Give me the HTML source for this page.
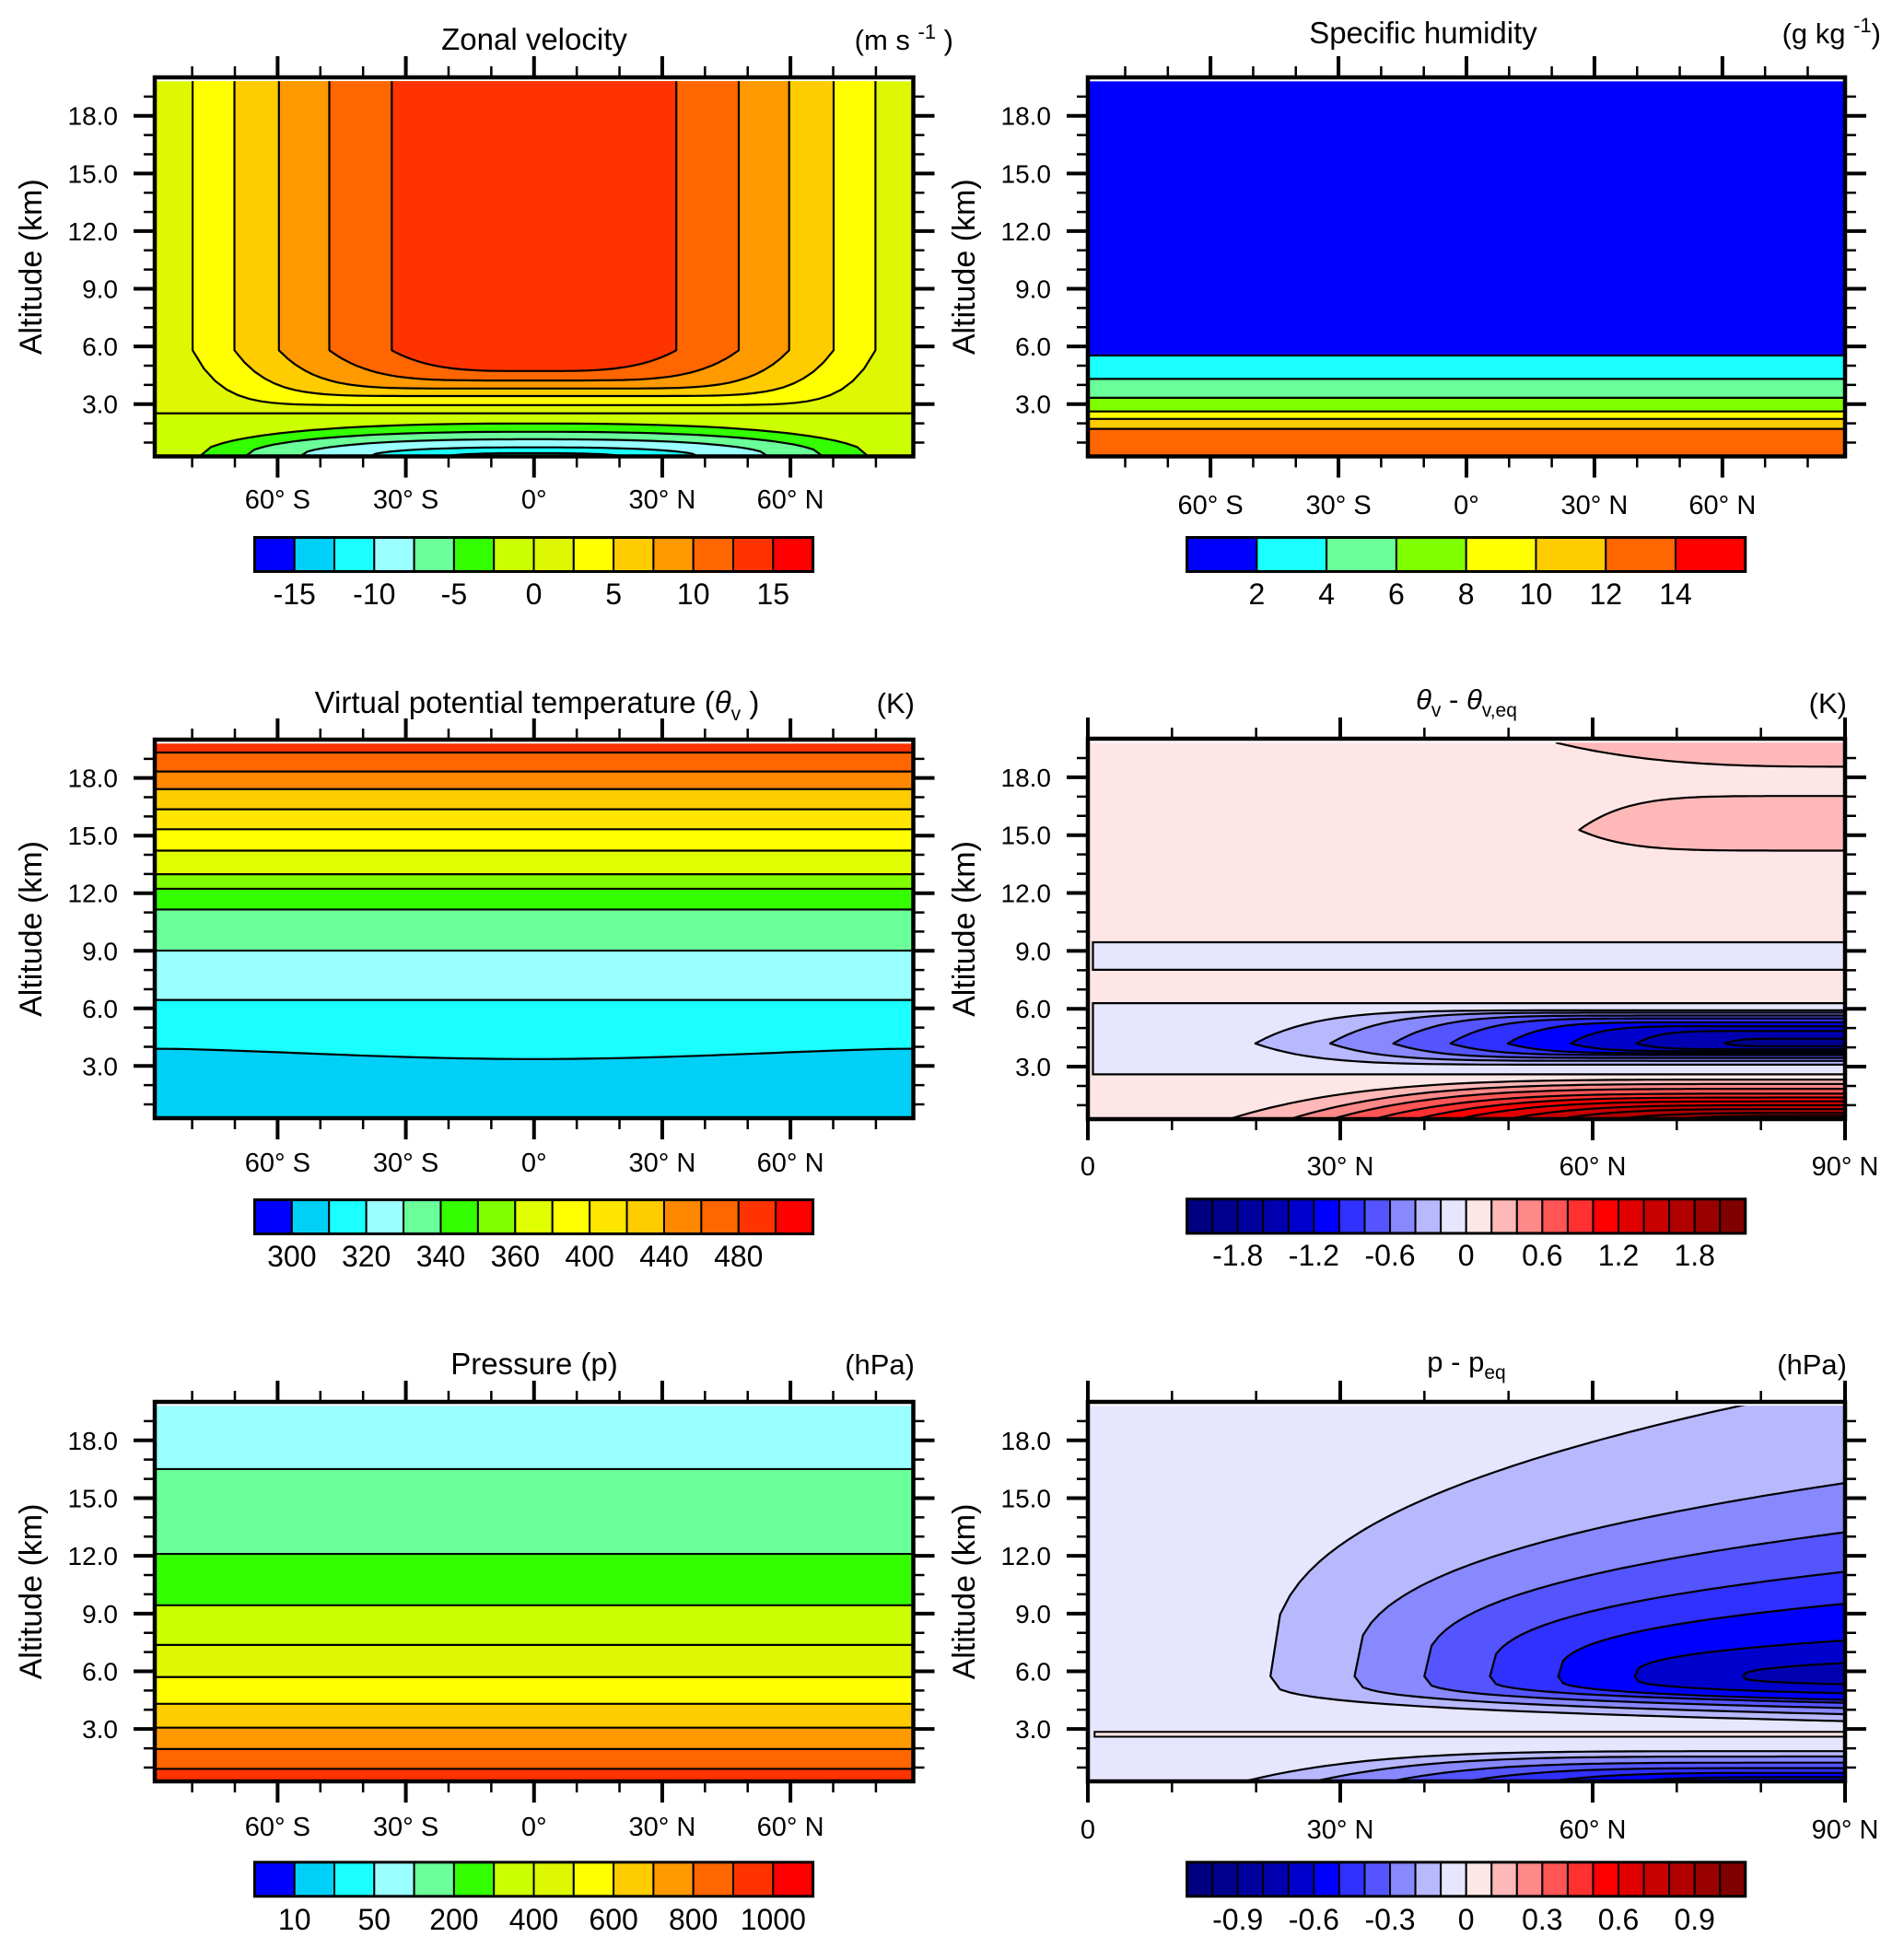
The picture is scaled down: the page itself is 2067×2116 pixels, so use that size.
<!DOCTYPE html>
<html><head><meta charset="utf-8"><style>
html,body{margin:0;padding:0;background:#fff;}
svg{display:block;font-family:"Liberation Sans",sans-serif;}
</style></head><body>
<svg id="fig" xmlns="http://www.w3.org/2000/svg" width="2067" height="2116" viewBox="0 0 2067 2116">
<rect width="2067" height="2116" fill="#fff"/>
<text x="580" y="54" font-size="33" text-anchor="middle">Zonal velocity</text>
<text x="1035" y="54" font-size="31" text-anchor="end">(m s <tspan font-size="22" dy="-12">-1</tspan><tspan dy="12"> )</tspan></text>
<text x="1545" y="47" font-size="33" text-anchor="middle">Specific humidity</text>
<text x="2042" y="47" font-size="31" text-anchor="end">(g kg <tspan font-size="22" dy="-12">-1</tspan><tspan dy="12">)</tspan></text>
<text x="583" y="774" font-size="33" text-anchor="middle">Virtual potential temperature  (<tspan font-style="italic">θ</tspan><tspan font-size="21" dy="8">v</tspan><tspan dy="-8"> )</tspan></text>
<text x="993" y="774" font-size="31" text-anchor="end">(K)</text>
<text x="1592" y="770" font-size="31" text-anchor="middle"><tspan font-style="italic">θ</tspan><tspan font-size="21" dy="8">v</tspan><tspan dy="-8"> - </tspan><tspan font-style="italic">θ</tspan><tspan font-size="21" dy="8">v,eq</tspan></text>
<text x="2005" y="774" font-size="31" text-anchor="end">(K)</text>
<text x="580" y="1492" font-size="33" text-anchor="middle">Pressure (p)</text>
<text x="993" y="1492" font-size="31" text-anchor="end">(hPa)</text>
<text x="1592" y="1489" font-size="31" text-anchor="middle">p - p<tspan font-size="21" dy="8">eq</tspan></text>
<text x="2005" y="1492" font-size="31" text-anchor="end">(hPa)</text>
</svg>
<script>
// ---------- data ----------
const altMin = 0.28, altMax = 20, dataTop = 19.8;
// Panel 1: zonal velocity
const uColors = ['#0000ff','#00d0f8','#1affff','#99ffff','#6bff99','#33ff00','#ccff00','#ddf800','#ffff00','#ffcc00','#ff9900','#ff6600','#ff3300','#ff0000'];
const uPosLat = [79.9, 70.1, 59.7, 47.9, 33.3];
const uPosBottom = [2.95, 3.42, 3.81, 4.23, 4.72];
const uPosCorner = 5.8;
const uPosFill = ['#ffff00','#ffcc00','#ff9900','#ff6600','#ff3300'];
const uZeroAlt = 2.52;
const uNegHalfWidth = [78.2, 67.6, 54.8, 38.4, 20];
const uNegPeak = [1.99, 1.56, 1.17, 0.75, 0.45];
const uNegFill = ['#33ff00','#6bff99','#99ffff','#1affff','#00d0f8'];
const uCbLabels = ['-15','-10','-5','0','5','10','15'];
const uCbIdx = [1,3,5,7,9,11,13];
// Panel 2: specific humidity
const qColors = ['#0000ff','#1affff','#6bff99','#80ff00','#ffff00','#ffcc00','#ff6600','#ff0000'];
const qBounds = [5.53, 4.31, 3.33, 2.62, 2.23, 1.71];
const qCbLabels = ['2','4','6','8','10','12','14'];
const qCbIdx = [1,2,3,4,5,6,7];
// Panel 3: theta_v
const thColors = ['#0000ff','#00d0f8','#1affff','#99ffff','#6bff99','#33ff00','#80ff00','#e0ff00','#ffff00','#ffe600','#ffcc00','#ff8800','#ff6600','#ff3300','#ff0000'];
const thBounds = [19.33, 18.34, 17.42, 16.37, 15.33, 14.22, 12.99, 12.23, 11.15, 9.01, 6.44];
const thBandFill = ['#ff3300','#ff6600','#ff8800','#ffcc00','#ffe600','#ffff00','#e0ff00','#80ff00','#33ff00','#6bff99','#99ffff','#1affff'];
const thLowEdge = 3.9, thLowCenter = 3.36;
const thCbLabels = ['300','320','340','360','400','440','480'];
const thCbIdx = [1,3,5,7,9,11,13];
// Panel 5: pressure
const pBounds = [16.51, 12.10, 9.43, 7.37, 5.70, 4.31, 3.07, 1.96, 0.93];
const pBandFill = ['#99ffff','#6bff99','#33ff00','#ccff00','#ddf800','#ffff00','#ffcc00','#ff9900','#ff6600','#ff3300'];
const pCbLabels = ['10','50','200','400','600','800','1000'];
const pCbIdx = [1,3,5,7,9,11,13];
// diverging colors
const divColors = ['#000080','#00008f','#00009f','#0000b0','#0000cc','#0000ff','#3030ff','#5555ff','#8888ff','#b8b8ff','#e6e6ff','#ffe6e6','#ffb8b8','#ff8888','#ff5555','#ff3030','#ff0000','#e00000','#c80000','#b00000','#990000','#800000'];
const divIdx = [2,5,8,11,14,17,20];
const dthCbLabels = ['-1.8','-1.2','-0.6','0','0.6','1.2','1.8'];
const dpCbLabels = ['-0.9','-0.6','-0.3','0','0.3','0.6','0.9'];
// Panel 4: theta anomaly
const dthBandsLow = [8.02, 2.6];
const dthBandsHigh = [9.45, 6.29];
const dthBlueTip = [19.9, 28.8, 36.3, 43.1, 49.9, 57.4, 65.2, 75.7];
const dthBlueTop = [5.92, 5.8, 5.65, 5.5, 5.3, 5.1, 4.85, 4.45];
const dthBlueBot = [3.1, 3.3, 3.45, 3.6, 3.7, 3.8, 3.9, 4.05];
const dthBlueCenter = 4.2;
const dthBlueFill = ['#b8b8ff','#8888ff','#5555ff','#3030ff','#0000ff','#0000cc','#0000b0','#00008f'];
const dthRedTip = [16.8, 24, 29, 34, 39, 44, 50, 56, 63, 70];
const dthRedTop = [2.33, 2.1, 1.85, 1.6, 1.4, 1.2, 1.0, 0.8, 0.6, 0.45];
const dthRedFill = ['#ffb8b8','#ff8888','#ff5555','#ff3030','#ff0000','#e00000','#c80000','#b00000','#990000','#800000'];
const dthPinkTip = 58.4, dthPinkCenter = 15.27, dthPinkTop = 17.03, dthPinkBot = 14.2;
const dthCapStartLat = 55.7, dthCapStartAlt = 19.79, dthCapEndAlt = 18.55;
// Panel 6: pressure anomaly
const dpTip = [21.7, 31.7, 40.0, 47.8, 55.9, 65.0, 77.9];
const dpTipAlt = 5.74;
const dpTop = [21.0, 15.85, 13.28, 11.22, 9.55, 7.63, 6.45];
const dpBot = [3.4, 3.76, 4.08, 4.35, 4.5, 4.84, 5.31];
const dpFill = ['#b8b8ff','#8888ff','#5555ff','#3030ff','#0000ff','#0000cc','#0000b0'];
const dpPinkLow = 2.6, dpPinkHigh = 2.85;
const dpSurfTip = [18.6, 27, 36, 45, 55, 65];
const dpSurfTop = [1.85, 1.57, 1.25, 0.97, 0.72, 0.5];
const dpSurfFill = ['#b8b8ff','#8888ff','#5555ff','#3030ff','#0000ff','#0000cc'];

const latTicksSym = [-60,-30,0,30,60];
const latLabelsSym = ['60° S','30° S','0°','30° N','60° N'];
const latTicksNH = [0,30,60,90];
const latLabelsNH = ['0','30° N','60° N','90° N'];
const altTicks = [3,6,9,12,15,18];
const altLabels = ['3.0','6.0','9.0','12.0','15.0','18.0'];

// ---------- helpers ----------
const NS = 'http://www.w3.org/2000/svg';
const svg = document.getElementById('fig');
function mk(tag, attrs, parent){
  const e = document.createElementNS(NS, tag);
  for (const k in attrs) e.setAttribute(k, attrs[k]);
  (parent || svg).appendChild(e);
  return e;
}
function sx(p, lat){ return p.x0 + (lat - p.lat0) / (p.lat1 - p.lat0) * (p.x1 - p.x0); }
function sy(p, alt){ return p.y1 - (alt - altMin) / (altMax - altMin) * (p.y1 - p.y0); }
function poly(p, pts){ return 'M' + pts.map(q => sx(p,q[0]).toFixed(1) + ',' + sy(p,q[1]).toFixed(1)).join('L') + 'Z'; }

let clipN = 0;
function plotGroup(p, name){
  const id = 'clip' + (clipN++);
  const cp = mk('clipPath', {id: id});
  mk('rect', {x: p.x0, y: sy(p, dataTop), width: p.x1 - p.x0, height: p.y1 - sy(p, dataTop)}, cp);
  const g = mk('g', {'clip-path': 'url(#' + id + ')'});
  
  
  return g;
}
function band(p, g, lo, hi, fill, name, lat0, lat1){
  const a = lat0 === undefined ? p.lat0 : lat0, b = lat1 === undefined ? p.lat1 : lat1;
  const e = mk('path', {d: poly(p, [[a,lo],[b,lo],[b,hi],[a,hi]]), fill: fill, stroke: 'none'}, g);
  
  
  return e;
}
function hline(p, g, alt, name, lat0){
  const a = lat0 === undefined ? p.lat0 : lat0;
  const e = mk('line', {x1: sx(p,a), x2: p.x1, y1: sy(p,alt), y2: sy(p,alt), stroke: '#000', 'stroke-width': 2.2}, g);
  
  
}
function shape(p, g, pts, fill, name){
  const e = mk('path', {d: poly(p, pts), fill: fill, stroke: '#000', 'stroke-width': 2.2, 'stroke-linejoin': 'round'}, g);
  
  
}

function axes(p, ticks, labels, minorTicks, labelBase, prefix){
  const ax = mk('g', {});
  
  
  const fr = mk('rect', {x: p.x0, y: p.y0, width: p.x1 - p.x0, height: p.y1 - p.y0, fill: 'none', stroke: '#000', 'stroke-width': 4.5}, ax);
  
  
  let d = '';
  ticks.forEach(t => { const x = sx(p,t); d += `M${x},${p.y0}V${p.y0-23}M${x},${p.y1}V${p.y1+23}`; });
  altTicks.forEach(a => { const y = sy(p,a); d += `M${p.x0},${y}H${p.x0-23}M${p.x1},${y}H${p.x1+23}`; });
  const mj = mk('path', {d: d, stroke: '#000', 'stroke-width': 4, fill: 'none'}, ax);
  
  
  let dm = '';
  minorTicks.forEach(t => { const x = sx(p,t); dm += `M${x},${p.y0}V${p.y0-12}M${x},${p.y1}V${p.y1+12}`; });
  for (let a = 1; a <= 19; a++){ if (a % 3 === 0) continue; const y = sy(p,a); dm += `M${p.x0},${y}H${p.x0-12}M${p.x1},${y}H${p.x1+12}`; }
  const mn = mk('path', {d: dm, stroke: '#000', 'stroke-width': 2.5, fill: 'none'}, ax);
  
  
  ticks.forEach((t, i) => {
    const tx = mk('text', {x: sx(p,t), y: labelBase, 'font-size': 29, 'text-anchor': 'middle'}, ax);
    tx.textContent = labels[i];
    
    
  });
  altTicks.forEach((a, i) => {
    const tx = mk('text', {x: p.x0 - 40, y: sy(p,a) + 10, 'font-size': 28, 'text-anchor': 'end'}, ax);
    tx.textContent = altLabels[i];
    
    
  });
  const cx = p.x0 - 123, cy = (p.y0 + p.y1) / 2;
  const yt = mk('text', {x: cx, y: cy, 'font-size': 34, 'text-anchor': 'middle', transform: `rotate(-90 ${cx} ${cy})`}, ax);
  yt.textContent = 'Altitude (km)';
  
  
}

function colorbar(x0, x1, y0, y1, colors, labels, idx, labelY, prefix){
  const g = mk('g', {});
  
  
  const w = (x1 - x0) / colors.length;
  colors.forEach((c, i) => {
    const r = mk('rect', {x: x0 + i*w, y: y0, width: w, height: y1 - y0, fill: c, stroke: '#000', 'stroke-width': 2}, g);
    
    
  });
  const fr = mk('rect', {x: x0, y: y0, width: x1 - x0, height: y1 - y0, fill: 'none', stroke: '#000', 'stroke-width': 3}, g);
  
  
  labels.forEach((l, i) => {
    const t = mk('text', {x: x0 + idx[i]*w, y: labelY, 'font-size': 32, 'text-anchor': 'middle'}, g);
    t.textContent = l;
    
    
  });
}

const minorSym = [-80,-70,-50,-40,-20,-10,10,20,40,50,70,80];
const minorNH = [10,20,40,50,70,80];
const N = 60;

// ---------- panel 1: zonal velocity ----------
const P1 = {x0:168, x1:991.5, y0:84, y1:495.5, lat0:-88.75, lat1:88.75};
{
  const g = plotGroup(P1, 'zonal-velocity-plot');
  band(P1, g, uZeroAlt, dataTop, uColors[7], 'u-band-0-2.5');
  band(P1, g, altMin, uZeroAlt, uColors[6], 'u-band-neg-2.5-0');
  const shp = [12, 9, 7, 5, 3.7];
  uPosLat.forEach((L, k) => {
    const b = uPosBottom[k], pts = [[-L, dataTop + 1]];
    for (let i = 0; i <= N; i++){ const lat = -L + 2*L*i/N; pts.push([lat, b + (uPosCorner - b) * Math.pow(Math.abs(lat)/L, shp[k])]); }
    pts.push([L, dataTop + 1]);
    shape(P1, g, pts, uPosFill[k], 'u-contour-region-' + k);
  });
  hline(P1, g, uZeroAlt, 'u-zero-contour');
  uNegHalfWidth.forEach((W, k) => {
    const pk = uNegPeak[k], pts = [];
    for (let i = 0; i <= N; i++){ const lat = -W + 2*W*i/N; const t = Math.abs(lat)/W; pts.push([lat, altMin + (pk - altMin) * Math.sqrt(Math.max(0, 1 - Math.pow(t, 2.5)))]); }
    shape(P1, g, pts, uNegFill[k], 'u-negative-region-' + k);
  });
  axes(P1, latTicksSym, latLabelsSym, minorSym, 552, 'zonal-velocity');
  colorbar(276.4, 882.6, 583.5, 620.5, uColors, uCbLabels, uCbIdx, 656, 'zonal-velocity');
}

// ---------- panel 2: specific humidity ----------
const P2 = {x0:1181, x1:2003, y0:84, y1:495.5, lat0:-88.75, lat1:88.75};
{
  const g = plotGroup(P2, 'specific-humidity-plot');
  const edges = [dataTop].concat(qBounds).concat([altMin]);
  for (let i = 0; i < edges.length - 1; i++) band(P2, g, edges[i+1], edges[i], qColors[i], 'q-band-' + i);
  qBounds.forEach((b, i) => hline(P2, g, b, 'q-contour-' + i));
  axes(P2, latTicksSym, latLabelsSym, minorSym, 558, 'specific-humidity');
  colorbar(1288.6, 1894.8, 583.5, 620.5, qColors, qCbLabels, qCbIdx, 656, 'specific-humidity');
}

// ---------- panel 3: theta_v ----------
const P3 = {x0:168, x1:991.5, y0:803, y1:1214, lat0:-88.75, lat1:88.75};
{
  const g = plotGroup(P3, 'theta-v-plot');
  const edges = [dataTop].concat(thBounds);
  for (let i = 0; i < edges.length - 1; i++) band(P3, g, edges[i+1], edges[i], thBandFill[i], 'theta-band-' + i);
  band(P3, g, altMin, thBounds[thBounds.length-1], thBandFill[thBandFill.length-1], 'theta-band-low');
  const pts = [[P3.lat0, altMin]];
  for (let i = 0; i <= N; i++){ const lat = P3.lat0 + (P3.lat1 - P3.lat0)*i/N; const t = Math.cos(lat/P3.lat1*Math.PI/2); pts.push([lat, thLowEdge - (thLowEdge - thLowCenter)*Math.pow(Math.max(0,t),1.5)]); }
  pts.push([P3.lat1, altMin]);
  const e = mk('path', {d: poly(P3, pts), fill: thColors[1], stroke: '#000', 'stroke-width': 2.2}, g);
  
  
  thBounds.forEach((b, i) => hline(P3, g, b, 'theta-contour-' + i));
  axes(P3, latTicksSym, latLabelsSym, minorSym, 1272, 'theta-v');
  colorbar(276.4, 882.6, 1302.6, 1339.6, thColors, thCbLabels, thCbIdx, 1375, 'theta-v');
}

// ---------- panel 4: theta anomaly ----------
const P4 = {x0:1181, x1:2003, y0:802, y1:1215, lat0:0, lat1:90};
{
  const g = plotGroup(P4, 'theta-anomaly-plot');
  band(P4, g, altMin, dataTop, '#ffe6e6', 'dtheta-background');
  dthBandsLow.forEach((lo, i) => {
    const e = mk('path', {d: poly(P4, [[0.6,lo],[91,lo],[91,dthBandsHigh[i]],[0.6,dthBandsHigh[i]]]), fill: '#e6e6ff', stroke: '#000', 'stroke-width': 2.2}, g);
    
    
  });
  dthBlueTip.forEach((tip, k) => {
    const pts = [], lower = [];
    for (let i = 0; i <= N; i++){ const t = i/N; const lat = tip + (91 - tip)*t; const f = 1 - Math.pow(1 - Math.min(t,1), 10);
      pts.push([lat, dthBlueCenter + (dthBlueTop[k] - dthBlueCenter)*f]); lower.push([lat, dthBlueCenter - (dthBlueCenter - dthBlueBot[k])*f]); }
    shape(P4, g, pts.concat(lower.reverse()), dthBlueFill[k], 'dtheta-blue-contour-' + k);
  });
  dthRedTip.forEach((tip, k) => {
    const pts = [[tip, altMin - 1]];
    for (let i = 0; i <= N; i++){ const t = i/N; const lat = tip + (91 - tip)*t; pts.push([lat, altMin + (dthRedTop[k] - altMin)*(1 - Math.pow(1 - Math.min(t,1), 5))]); }
    pts.push([91, altMin - 1]);
    shape(P4, g, pts, dthRedFill[k], 'dtheta-red-contour-' + k);
  });
  {
    const up = [], lo = [];
    for (let i = 0; i <= N; i++){ const t = i/N; const lat = dthPinkTip + (91 - dthPinkTip)*t; const f = 1 - Math.pow(1 - Math.min(t,1), 6);
      up.push([lat, dthPinkCenter + (dthPinkTop - dthPinkCenter)*f]); lo.push([lat, dthPinkCenter - (dthPinkCenter - dthPinkBot)*f]); }
    shape(P4, g, up.concat(lo.reverse()), '#ffb8b8', 'dtheta-pink-tongue');
    const cap = [[dthCapStartLat, dataTop + 1]];
    for (let i = 0; i <= N; i++){ const t = i/N; const lat = dthCapStartLat + (91 - dthCapStartLat)*t; cap.push([lat, dthCapStartAlt - (dthCapStartAlt - dthCapEndAlt)*(1 - Math.pow(1 - Math.min(t,1), 3))]); }
    cap.push([91, dataTop + 1]);
    shape(P4, g, cap, '#ffb8b8', 'dtheta-pink-cap');
  }
  axes(P4, latTicksNH, latLabelsNH, minorNH, 1276, 'theta-anomaly');
  colorbar(1288.6, 1894.8, 1301.8, 1339, divColors, dthCbLabels, divIdx, 1374, 'theta-anomaly');
}

// ---------- panel 5: pressure ----------
const P5 = {x0:168, x1:991.5, y0:1522, y1:1934, lat0:-88.75, lat1:88.75};
{
  const g = plotGroup(P5, 'pressure-plot');
  const edges = [dataTop].concat(pBounds).concat([altMin]);
  for (let i = 0; i < edges.length - 1; i++) band(P5, g, edges[i+1], edges[i], pBandFill[i], 'p-band-' + i);
  pBounds.forEach((b, i) => hline(P5, g, b, 'p-contour-' + i));
  axes(P5, latTicksSym, latLabelsSym, minorSym, 1993, 'pressure');
  colorbar(276.4, 882.6, 2021.8, 2058.8, uColors, pCbLabels, pCbIdx, 2095, 'pressure');
}

// ---------- panel 6: pressure anomaly ----------
const P6 = {x0:1181, x1:2003, y0:1522, y1:1934, lat0:0, lat1:90};
{
  const g = plotGroup(P6, 'pressure-anomaly-plot');
  band(P6, g, altMin, dataTop, '#e6e6ff', 'dp-background');
  dpTip.forEach((tip, k) => {
    const up = [], lo = [];
    for (let i = 0; i <= N; i++){ const t = i/N; const lat = tip + (91 - tip)*t; const tt = Math.min(t,1);
      up.push([lat, dpTipAlt + (dpTop[k] - dpTipAlt)*Math.pow(tt, 0.38)]); lo.push([lat, dpTipAlt - (dpTipAlt - dpBot[k])*Math.pow(tt, 0.3)]); }
    shape(P6, g, up.concat(lo.reverse()), dpFill[k], 'dp-blue-contour-' + k);
  });
  {
    const e = mk('path', {d: poly(P6, [[0.8,dpPinkLow],[91,dpPinkLow],[91,dpPinkHigh],[0.8,dpPinkHigh]]), fill: '#ffe6e6', stroke: '#000', 'stroke-width': 2}, g);
    
    
  }
  dpSurfTip.forEach((tip, k) => {
    const pts = [[tip, altMin - 1]];
    for (let i = 0; i <= N; i++){ const t = i/N; const lat = tip + (91 - tip)*t; pts.push([lat, altMin + (dpSurfTop[k] - altMin)*(1 - Math.pow(1 - Math.min(t,1), 5))]); }
    pts.push([91, altMin - 1]);
    shape(P6, g, pts, dpSurfFill[k], 'dp-surface-contour-' + k);
  });
  axes(P6, latTicksNH, latLabelsNH, minorNH, 1996, 'pressure-anomaly');
  colorbar(1288.6, 1894.8, 2021.8, 2058.8, divColors, dpCbLabels, divIdx, 2095, 'pressure-anomaly');
}
</script>
</body></html>
